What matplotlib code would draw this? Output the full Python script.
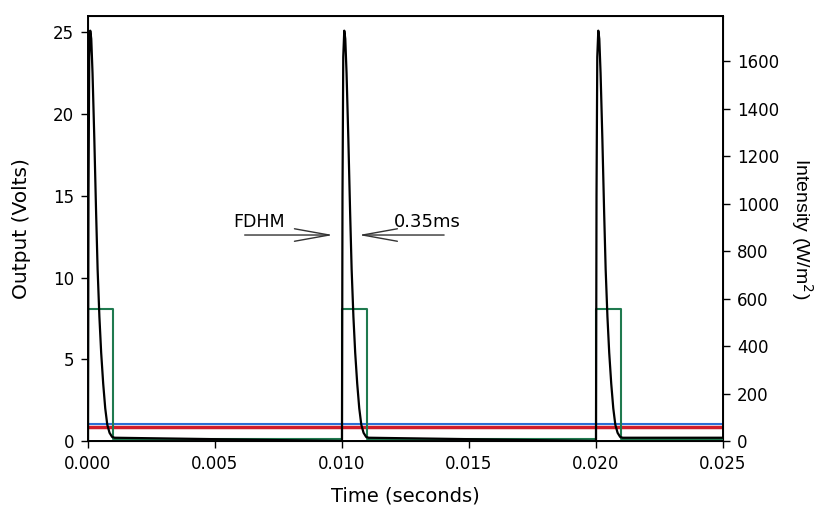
import matplotlib

matplotlib.use("Agg")
import matplotlib.pyplot as plt
import numpy as np

# photodetector output for one flash, offsets in ms from the trigger
pulse_t_ms = [0.0, 0.02, 0.05, 0.09, 0.13, 0.18, 0.25, 0.32, 0.38, 0.45, 0.52, 0.60, 0.68, 0.76, 0.85, 0.95, 1.05]
pulse_volts = [0.0, 15.0, 23.5, 25.1, 24.6, 22.5, 18.5, 14.0, 10.5, 7.6, 5.4, 3.5, 2.0, 1.0, 0.5, 0.25, 0.2]
flash_starts = [0.0, 0.010, 0.020]
baseline_volts = 0.2

# drive pulse (1 ms wide) and reference levels
drive_width = 0.001
drive_level = 8.1
drive_low = 0.1
ref_blue = 1.04
ref_red = 0.87

t_end = 0.025
fwhm_label = "0.35ms"

fig = plt.figure(figsize=(8.19, 5.15), dpi=100)
ax = fig.add_axes([0.1074, 0.1437, 0.7754, 0.8253])

# black detector trace
t_all, v_all = [], []
for t0 in flash_starts:
    t_all += [t0 + x / 1000 for x in pulse_t_ms]
    v_all += pulse_volts
t_all.append(t_end)
v_all.append(baseline_volts)
ax.plot(t_all, v_all, color="black", lw=1.6, zorder=4)

# green drive pulses
gt, gv = [0.0], [drive_low]
for t0 in flash_starts:
    gt += [t0, t0, t0 + drive_width, t0 + drive_width]
    gv += [drive_low, drive_level, drive_level, drive_low]
gt.append(t_end)
gv.append(drive_low)
ax.plot(gt, gv, color="#1f7a4f", lw=1.5, zorder=3)

ax.axhline(ref_blue, color="#2a6fd6", lw=1.5, zorder=2)
ax.axhline(ref_red, color="#d01c2a", lw=2.5, zorder=2)

ax.set_xlim(0, t_end)
ax.set_ylim(0, 26.0)
ax.set_xticks([0.0, 0.005, 0.010, 0.015, 0.020, 0.025])
ax.set_xticklabels(["0.000", "0.005", "0.010", "0.015", "0.020", "0.025"])
ax.set_yticks([0, 5, 10, 15, 20, 25])
ax.set_xlabel("Time (seconds)", fontsize=14, labelpad=10)
ax.set_ylabel("Output (Volts)", fontsize=14.5, labelpad=16)
ax.tick_params(labelsize=12, length=5, width=1, pad=5)
for s in ax.spines.values():
    s.set_linewidth(1.4)

ax2 = ax.twinx()
ax2.set_ylim(0, 1790)
ax2.set_yticks(range(0, 1601, 200))
ax2.tick_params(labelsize=12, length=5, width=1, pad=5)
ax2.set_ylabel("Intensity (W/m$^2$)", fontsize=14, family="Liberation Sans",
               rotation=-90, va="bottom", labelpad=7)

# FDHM annotation
arrow_kw = dict(arrowstyle="->,head_length=2.5,head_width=0.45", mutation_scale=10, lw=1.0, color="#333333")
ax.annotate("", xy=(0.00976, 12.6), xytext=(0.00606, 12.6), arrowprops=arrow_kw)
ax.annotate("", xy=(0.01055, 12.6), xytext=(0.01413, 12.6), arrowprops=arrow_kw)
ax.text(0.00675, 13.4, "FDHM", fontsize=12.5, ha="center", va="center")
ax.text(0.01205, 13.4, fwhm_label, fontsize=13, ha="left", va="center")

fig.savefig("out.png", dpi=100)
